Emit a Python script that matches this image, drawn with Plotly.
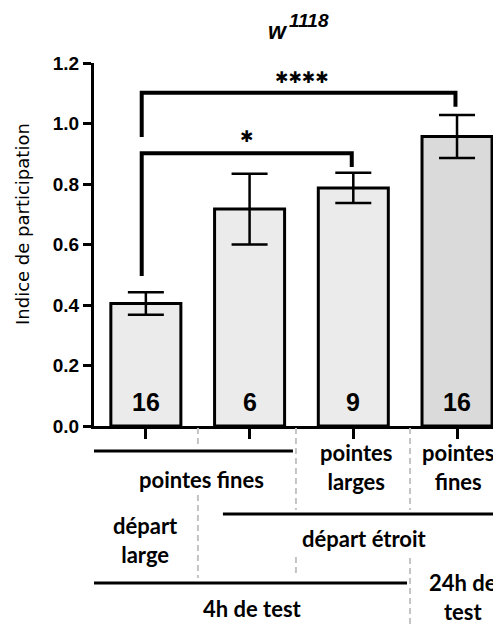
import plotly.graph_objects as go

# ---- data ----
categories = ["A", "B", "C", "D"]
values = [0.405, 0.717, 0.787, 0.957]
errors = [0.037, 0.117, 0.050, 0.071]
n_labels = ["16", "6", "9", "16"]
bar_colors = ["#ebebeb", "#ebebeb", "#ebebeb", "#dadada"]
y_ticks = [0.0, 0.2, 0.4, 0.6, 0.8, 1.0, 1.2]
y_tick_text = ["0.0", "0.2", "0.4", "0.6", "0.8", "1.0", "1.2"]

# significance brackets
br_left = [0, 0]
br_right = [3, 2]
br_top = [1.102, 0.902]
br_left_end = [0.955, 0.496]
br_right_end = [1.055, 0.856]
br_label = ["✱✱✱✱", "✱"]

# ---- layout helpers (page has an 8px body margin) ----
SHIFT = 8
PLOT_TOP, PLOT_BOT = 63, 426      # screen pixels
PLOT_LEFT, PLOT_RIGHT = 94, 501
W, H = 501, 625

def py(p):
    return (PLOT_BOT - p) / (PLOT_BOT - PLOT_TOP)

def px(s):
    return (s - PLOT_LEFT) / (PLOT_RIGHT - PLOT_LEFT)

xs = list(range(len(categories)))

fig = go.Figure()
fig.add_trace(go.Bar(
    x=xs, y=values, width=0.675,
    marker=dict(color=bar_colors, line=dict(color="black", width=3)),
    error_y=dict(type="data", array=errors, visible=True, color="black",
                 thickness=2.5, width=18),
    showlegend=False, hoverinfo="skip",
))

shapes = []
annotations = []

# brackets
for l, r, t, le, re_, lab in zip(br_left, br_right, br_top, br_left_end, br_right_end, br_label):
    xl, xr = l - 0.04, r - 0.015
    shapes.append(dict(type="path", xref="x", yref="y",
                       path=f"M {xl},{le} L {xl},{t} L {xr},{t} L {xr},{re_}",
                       line=dict(color="black", width=4)))
    annotations.append(dict(x=(xl + xr) / 2 + (0.03 if r == 3 else 0.0),
                            y=t + (0.05 if r == 3 else 0.055),
                            xref="x", yref="y", text=f"<b>{lab}</b>",
                            showarrow=False,
                            font=dict(family="DejaVu Sans", size=16, color="black"),
                            yanchor="middle"))

# n labels in bars
for x, n in zip(xs, n_labels):
    annotations.append(dict(x=x, y=0.079, xref="x", yref="y", text=f"<b>{n}</b>",
                            showarrow=False, yanchor="middle",
                            font=dict(family="Liberation Sans, Arial", size=25, color="black")))

# title w^1118
annotations.append(dict(x=px(278), y=py(31), xref="paper", yref="paper",
                        text="<b><i>w</i></b>", showarrow=False, yanchor="middle",
                        font=dict(family="Liberation Sans, Arial", size=23, color="black")))
annotations.append(dict(x=px(287), y=py(20), xref="paper", yref="paper",
                        text="<b><i>1118</i></b>", showarrow=False, yanchor="middle",
                        xanchor="left",
                        font=dict(family="Liberation Sans, Arial", size=19, color="black")))

# y-axis title
annotations.append(dict(x=px(22), y=py(224), xref="paper", yref="paper",
                        text="Indice de participation", textangle=-90, showarrow=False,
                        xanchor="center", yanchor="middle",
                        font=dict(family="DejaVu Sans", size=18, color="black")))

# below-axis grouping lines
hlines = [(-0.51, 1.418, 451), (0.743, 3.45, 514), (-0.51, 2.518, 583)]
for x0, x1, p in hlines:
    shapes.append(dict(type="line", xref="x", yref="paper", x0=x0, x1=x1,
                       y0=py(p), y1=py(p), line=dict(color="black", width=3)))

dashed = [(-0.51, 428, 625), (0.502, 428, 448), (0.502, 495, 578),
          (1.447, 428, 510), (1.447, 557, 577),
          (2.547, 428, 510), (2.547, 558, 625)]
for x, p0, p1 in dashed:
    shapes.append(dict(type="line", xref="x", yref="paper", x0=x, x1=x,
                       y0=py(p0), y1=py(p1),
                       line=dict(color="#c4c4c4", width=2, dash="6px,4px")))

lab_font = dict(family="Lato", size=22, color="black")
labels = [
    (0.54, 479, "pointes fines"),
    (2.035, 467, "pointes<br>larges"),
    (3.01, 467, "pointes<br>fines"),
    (0.0, 540, "départ<br>large"),
    (2.11, 538, "départ étroit"),
    (1.03, 608, "4h de test"),
    (3.06, 597, "24h de<br>test"),
]
for x, p, t in labels:
    annotations.append(dict(x=x, y=py(p), xref="x", yref="paper", text=f"<b>{t}</b>",
                            showarrow=False, yanchor="middle", font=lab_font))

fig.update_layout(
    width=W, height=H,
    margin=dict(l=PLOT_LEFT - SHIFT, r=W - (PLOT_RIGHT - SHIFT),
                t=PLOT_TOP - SHIFT, b=H - (PLOT_BOT - SHIFT)),
    plot_bgcolor="white", paper_bgcolor="white",
    shapes=shapes, annotations=annotations,
    xaxis=dict(range=[-0.5, 3.424], showgrid=False, zeroline=False,
               showline=True, linecolor="black", linewidth=3,
               ticks="outside", ticklen=10, tickwidth=3, tickcolor="black",
               tickvals=xs, showticklabels=False),
    yaxis=dict(range=[0, 1.2], showgrid=False, zeroline=False,
               showline=True, linecolor="black", linewidth=3,
               ticks="outside", ticklen=8, tickwidth=3, tickcolor="black",
               tickvals=y_ticks, ticktext=[f"<b>{t}</b>" for t in y_tick_text],
               tickfont=dict(family="Liberation Sans, Arial", size=19, color="black")),
)

fig.write_html("out.html")
